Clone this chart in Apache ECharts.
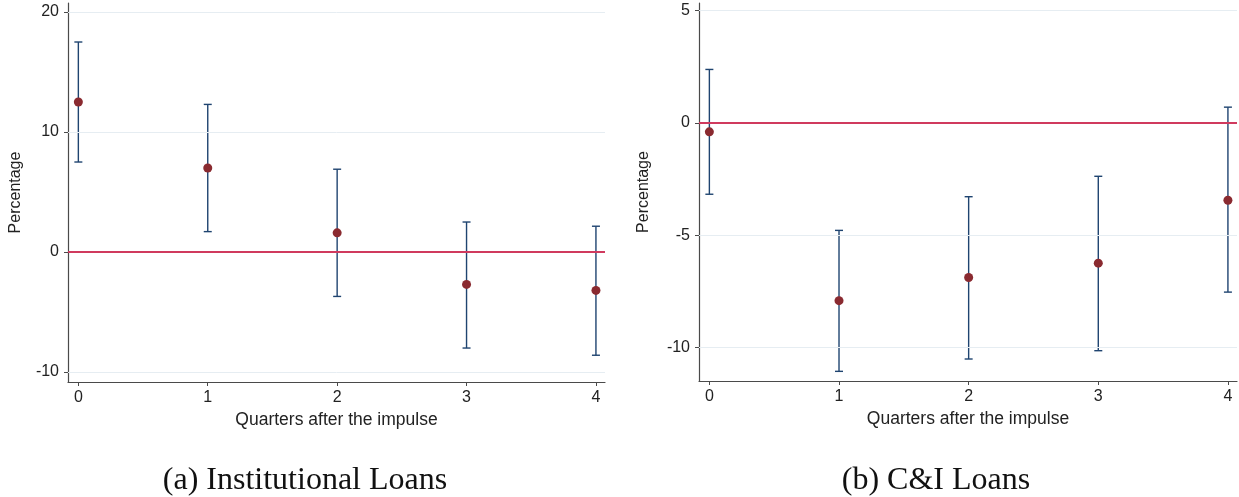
<!DOCTYPE html>
<html>
<head>
<meta charset="utf-8">
<script src="https://cdn.jsdelivr.net/npm/echarts@6/dist/echarts.min.js"></script>
<style>
html,body{margin:0;padding:0;background:#fff;}
#c{width:1239px;height:497px;}
</style>
</head>
<body>
<div id="c"></div>
<script>
// Data
const quarters = [0, 1, 2, 3, 4];
const xTicks = [0, 1, 2, 3, 4];

const instPoint = [12.5, 7.0, 1.6, -2.7, -3.2];
const instLower = [7.5, 1.7, -3.7, -8.0, -8.6];
const instUpper = [17.5, 12.3, 6.9, 2.5, 2.15];
const instTicks = [-10, 0, 10, 20];

const ciPoint = [-0.4, -7.92, -6.89, -6.25, -3.45];
const ciLower = [-3.18, -11.07, -10.52, -10.15, -7.54];
const ciUpper = [2.38, -4.79, -3.29, -2.38, 0.70];
const ciTicks = [-10, -5, 0, 5];

const captions = ['(a) Institutional Loans', '(b) C&I Loans'];
const xName = 'Quarters after the impulse';
const yName = 'Percentage';

const NAVY = '#1f4470';
const DOT = '#8a2a30';
const ZERO = '#d03a5e';
const GRID = '#e6edf2';
const AXIS = '#4a4a4a';
const FONT = '"Liberation Sans", Arial, sans-serif';
const SERIF = '"Liberation Serif", "DejaVu Serif", serif';

function errSeries(idx, lo, hi) {
  return {
    type: 'custom', xAxisIndex: idx, yAxisIndex: idx, z: 3,
    data: quarters.map((q, i) => [q, lo[i], hi[i]]),
    renderItem: function (params, api) {
      const x = api.value(0);
      const a = api.coord([x, api.value(1)]);
      const b = api.coord([x, api.value(2)]);
      const w = 4;
      const st = {stroke: NAVY, lineWidth: 1.4};
      return {type: 'group', children: [
        {type: 'line', shape: {x1: a[0], y1: a[1], x2: b[0], y2: b[1]}, style: st},
        {type: 'line', shape: {x1: a[0]-w, y1: a[1], x2: a[0]+w, y2: a[1]}, style: st},
        {type: 'line', shape: {x1: b[0]-w, y1: b[1], x2: b[0]+w, y2: b[1]}, style: st}
      ]};
    }
  };
}
function pointSeries(idx, pts, gridVals) {
  return {
    type: 'scatter', xAxisIndex: idx, yAxisIndex: idx, z: 4,
    symbolSize: 9, itemStyle: {color: DOT, opacity: 1},
    data: quarters.map((q, i) => [q, pts[i]]),
    markLine: {
      silent: true, symbol: 'none', animation: false, label: {show: false},
      data: [{yAxis: 0, lineStyle: {color: ZERO, width: 2.2, type: 'solid'}}]
        .concat(gridVals.filter(v => v !== 0).map(v => ({yAxis: v, lineStyle: {color: GRID, width: 1, type: 'solid'}})))
    }
  };
}
function xAxis(idx) {
  return {
    type: 'value', gridIndex: idx, min: -0.08, max: 4.07,
    name: xName, nameLocation: 'middle', nameGap: 24,
    nameTextStyle: {fontFamily: FONT, fontSize: 17.5, color: '#222'},
    axisLine: {onZero: false, lineStyle: {color: AXIS, width: 1.2}},
    axisTick: {show: true, length: 4, customValues: xTicks, lineStyle: {color: AXIS}},
    axisLabel: {customValues: xTicks, fontFamily: FONT, fontSize: 16, color: '#222', margin: 8},
    splitLine: {show: false}
  };
}
function yAxis(idx, min, max, ticks, gap) {
  return {
    type: 'value', gridIndex: idx, min: min, max: max,
    name: yName, nameLocation: 'middle', nameGap: gap,
    nameTextStyle: {fontFamily: FONT, fontSize: 16, color: '#222'},
    axisLine: {show: true, onZero: false, lineStyle: {color: AXIS, width: 1.2}},
    axisTick: {show: true, length: 4, customValues: ticks, lineStyle: {color: AXIS}},
    axisLabel: {customValues: ticks, fontFamily: FONT, fontSize: 16, color: '#222', margin: 9},
    splitLine: {show: false}
  };
}

const chart = echarts.init(document.getElementById('c'), null, {renderer: 'canvas'});
chart.setOption({
  animation: false,
  backgroundColor: '#fff',
  title: [
    {text: captions[0], left: 300, top: 460, textAlign: 'center',
     textStyle: {fontFamily: SERIF, fontSize: 32, fontWeight: 'normal', color: '#111'}},
    {text: captions[1], left: 931, top: 460, textAlign: 'center',
     textStyle: {fontFamily: SERIF, fontSize: 32, fontWeight: 'normal', color: '#111'}}
  ],
  grid: [
    {left: 68, top: 3, width: 537, height: 379},
    {left: 699, top: 3, width: 538, height: 378}
  ],
  xAxis: [xAxis(0), xAxis(1)],
  yAxis: [yAxis(0, -10.83, 20.75, instTicks, 44), yAxis(1, -11.5, 5.34, ciTicks, 47)],
  series: [
    errSeries(0, instLower, instUpper),
    pointSeries(0, instPoint, instTicks),
    errSeries(1, ciLower, ciUpper),
    pointSeries(1, ciPoint, ciTicks)
  ]
});
</script>
</body>
</html>
